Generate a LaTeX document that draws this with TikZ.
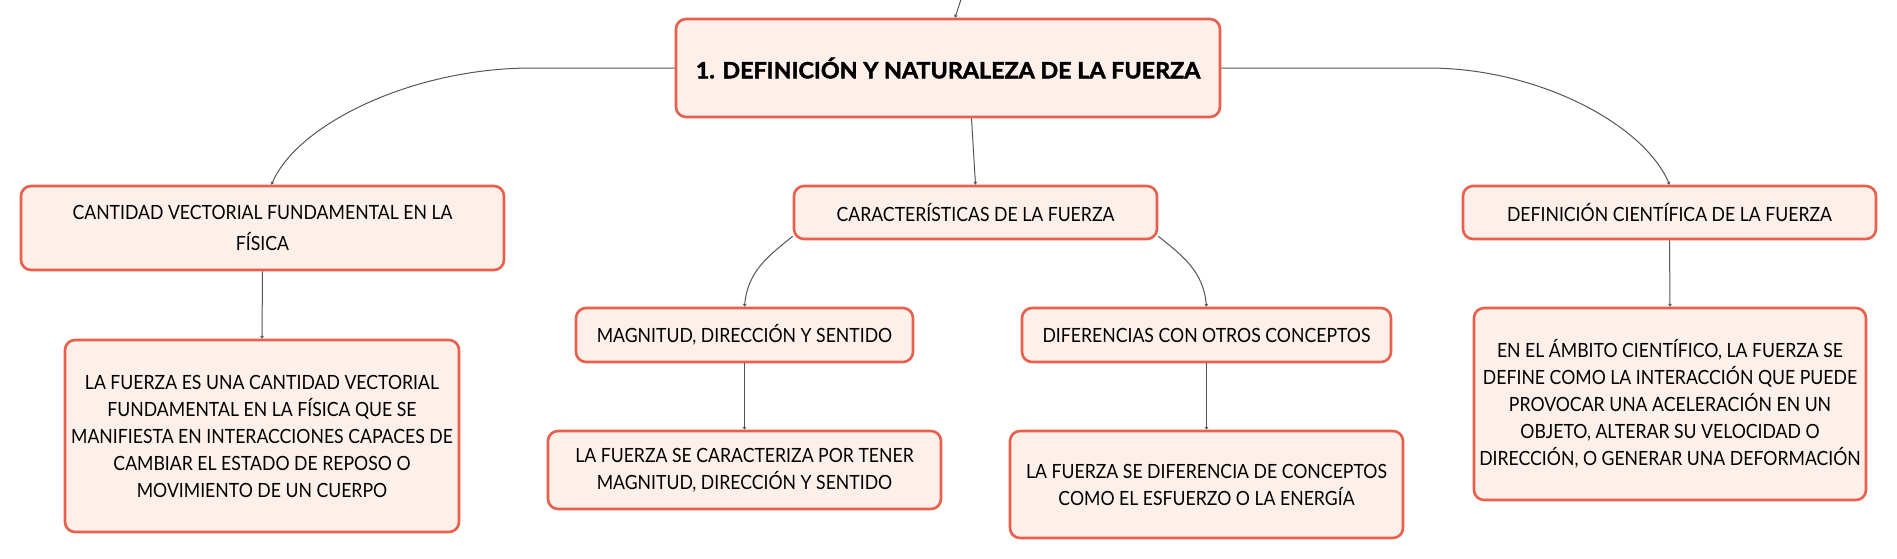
\documentclass[tikz,border=0pt]{standalone}
\usepackage{fontspec}
\setmainfont{Lato}[FakeStretch=0.9]
\newfontfamily\titlefont{Lato}[FakeStretch=1.04, BoldFeatures={FakeBold=2}]
\usepackage{tikz}
\usetikzlibrary{arrows.meta,positioning}
\definecolor{boxline}{HTML}{EA5F4B}
\definecolor{boxfill}{HTML}{FDF0EB}
\definecolor{edgegray}{HTML}{555555}

\begin{document}
\begin{tikzpicture}[x=0.5pt, y=0.5pt,
        topic/.style={draw=boxline, fill=boxfill, line width=1.3pt, rounded corners=5pt,
            align=center, inner sep=0pt, font=\fontsize{9.8}{13.5}\selectfont},
        boxsize/.style 2 args={minimum width=#1*0.5pt, minimum height=#2*0.5pt},
        link/.style={draw=edgegray, line width=0.5pt, -{Stealth[length=1.5pt,width=2pt]}}]
    \useasboundingbox (0,0) rectangle (1897,-558);
    \node [topic, boxsize={544}{98}, font=\fontsize{11.2}{14}\titlefont\bfseries] (title) at (948,-68)
        {1. DEFINICIÓN Y NATURALEZA DE LA FUERZA};
    \node [topic, boxsize={483}{84}, font=\fontsize{9.8}{15.5}\selectfont] (cant) at (262.5,-228)
        {CANTIDAD VECTORIAL FUNDAMENTAL EN LA\\FÍSICA};
    \node [topic, boxsize={363}{53}] (char) at (975.5,-212.5)
        {CARACTERÍSTICAS DE LA FUERZA};
    \node [topic, boxsize={413}{53}] (defc) at (1669.5,-212.5)
        {DEFINICIÓN CIENTÍFICA DE LA FUERZA};
    \node [topic, boxsize={337}{54}] (mag) at (744.5,-335)
        {MAGNITUD, DIRECCIÓN Y SENTIDO};
    \node [topic, boxsize={369}{54}] (dif) at (1206.5,-335)
        {DIFERENCIAS CON OTROS CONCEPTOS};
    \node [topic, boxsize={394}{192}] (cantd) at (262,-436)
        {LA FUERZA ES UNA CANTIDAD VECTORIAL\\FUNDAMENTAL EN LA FÍSICA QUE SE\\MANIFIESTA EN INTERACCIONES CAPACES DE\\CAMBIAR EL ESTADO DE REPOSO O\\MOVIMIENTO DE UN CUERPO};
    \node [topic, boxsize={393}{78}] (magd) at (744.5,-470)
        {LA FUERZA SE CARACTERIZA POR TENER\\MAGNITUD, DIRECCIÓN Y SENTIDO};
    \node [topic, boxsize={393}{107}] (difd) at (1206.5,-484.5)
        {LA FUERZA SE DIFERENCIA DE CONCEPTOS\\COMO EL ESFUERZO O LA ENERGÍA};
    \node [topic, boxsize={392}{192}] (defd) at (1670,-404)
        {EN EL ÁMBITO CIENTÍFICO, LA FUERZA SE\\DEFINE COMO LA INTERACCIÓN QUE PUEDE\\PROVOCAR UNA ACELERACIÓN EN UN\\OBJETO, ALTERAR SU VELOCIDAD O\\DIRECCIÓN, O GENERAR UNA DEFORMACIÓN};
    \coordinate (up) at (974,40);
    % connectors
    \draw [link] (up) -- ([xshift=3.5pt]title.north);
    \draw [link] (title.west) -- ++(-143,0) .. controls +(-120,0) and +(25,60) .. ([xshift=4.5pt]cant.north);
    \draw [link] (title.east) -- ++(207,0) .. controls +(110,0) and +(-25,60) .. (defc.north);
    \draw [link] ([xshift=-2pt]char.north |- title.south) -- (char.north);
    \draw [link] ([yshift=2pt]char.south west) .. controls +(-25,-20) and +(3,35) .. (mag.north);
    \draw [link] ([yshift=2pt]char.south east) .. controls +(25,-20) and +(-3,35) .. (dif.north);
    \draw [link] (cant.south) -- (cantd.north);
    \draw [link] (mag.south) -- (magd.north);
    \draw [link] (dif.south) -- (difd.north);
    \draw [link] (defc.south) -- (defd.north);
\end{tikzpicture}
\end{document}
